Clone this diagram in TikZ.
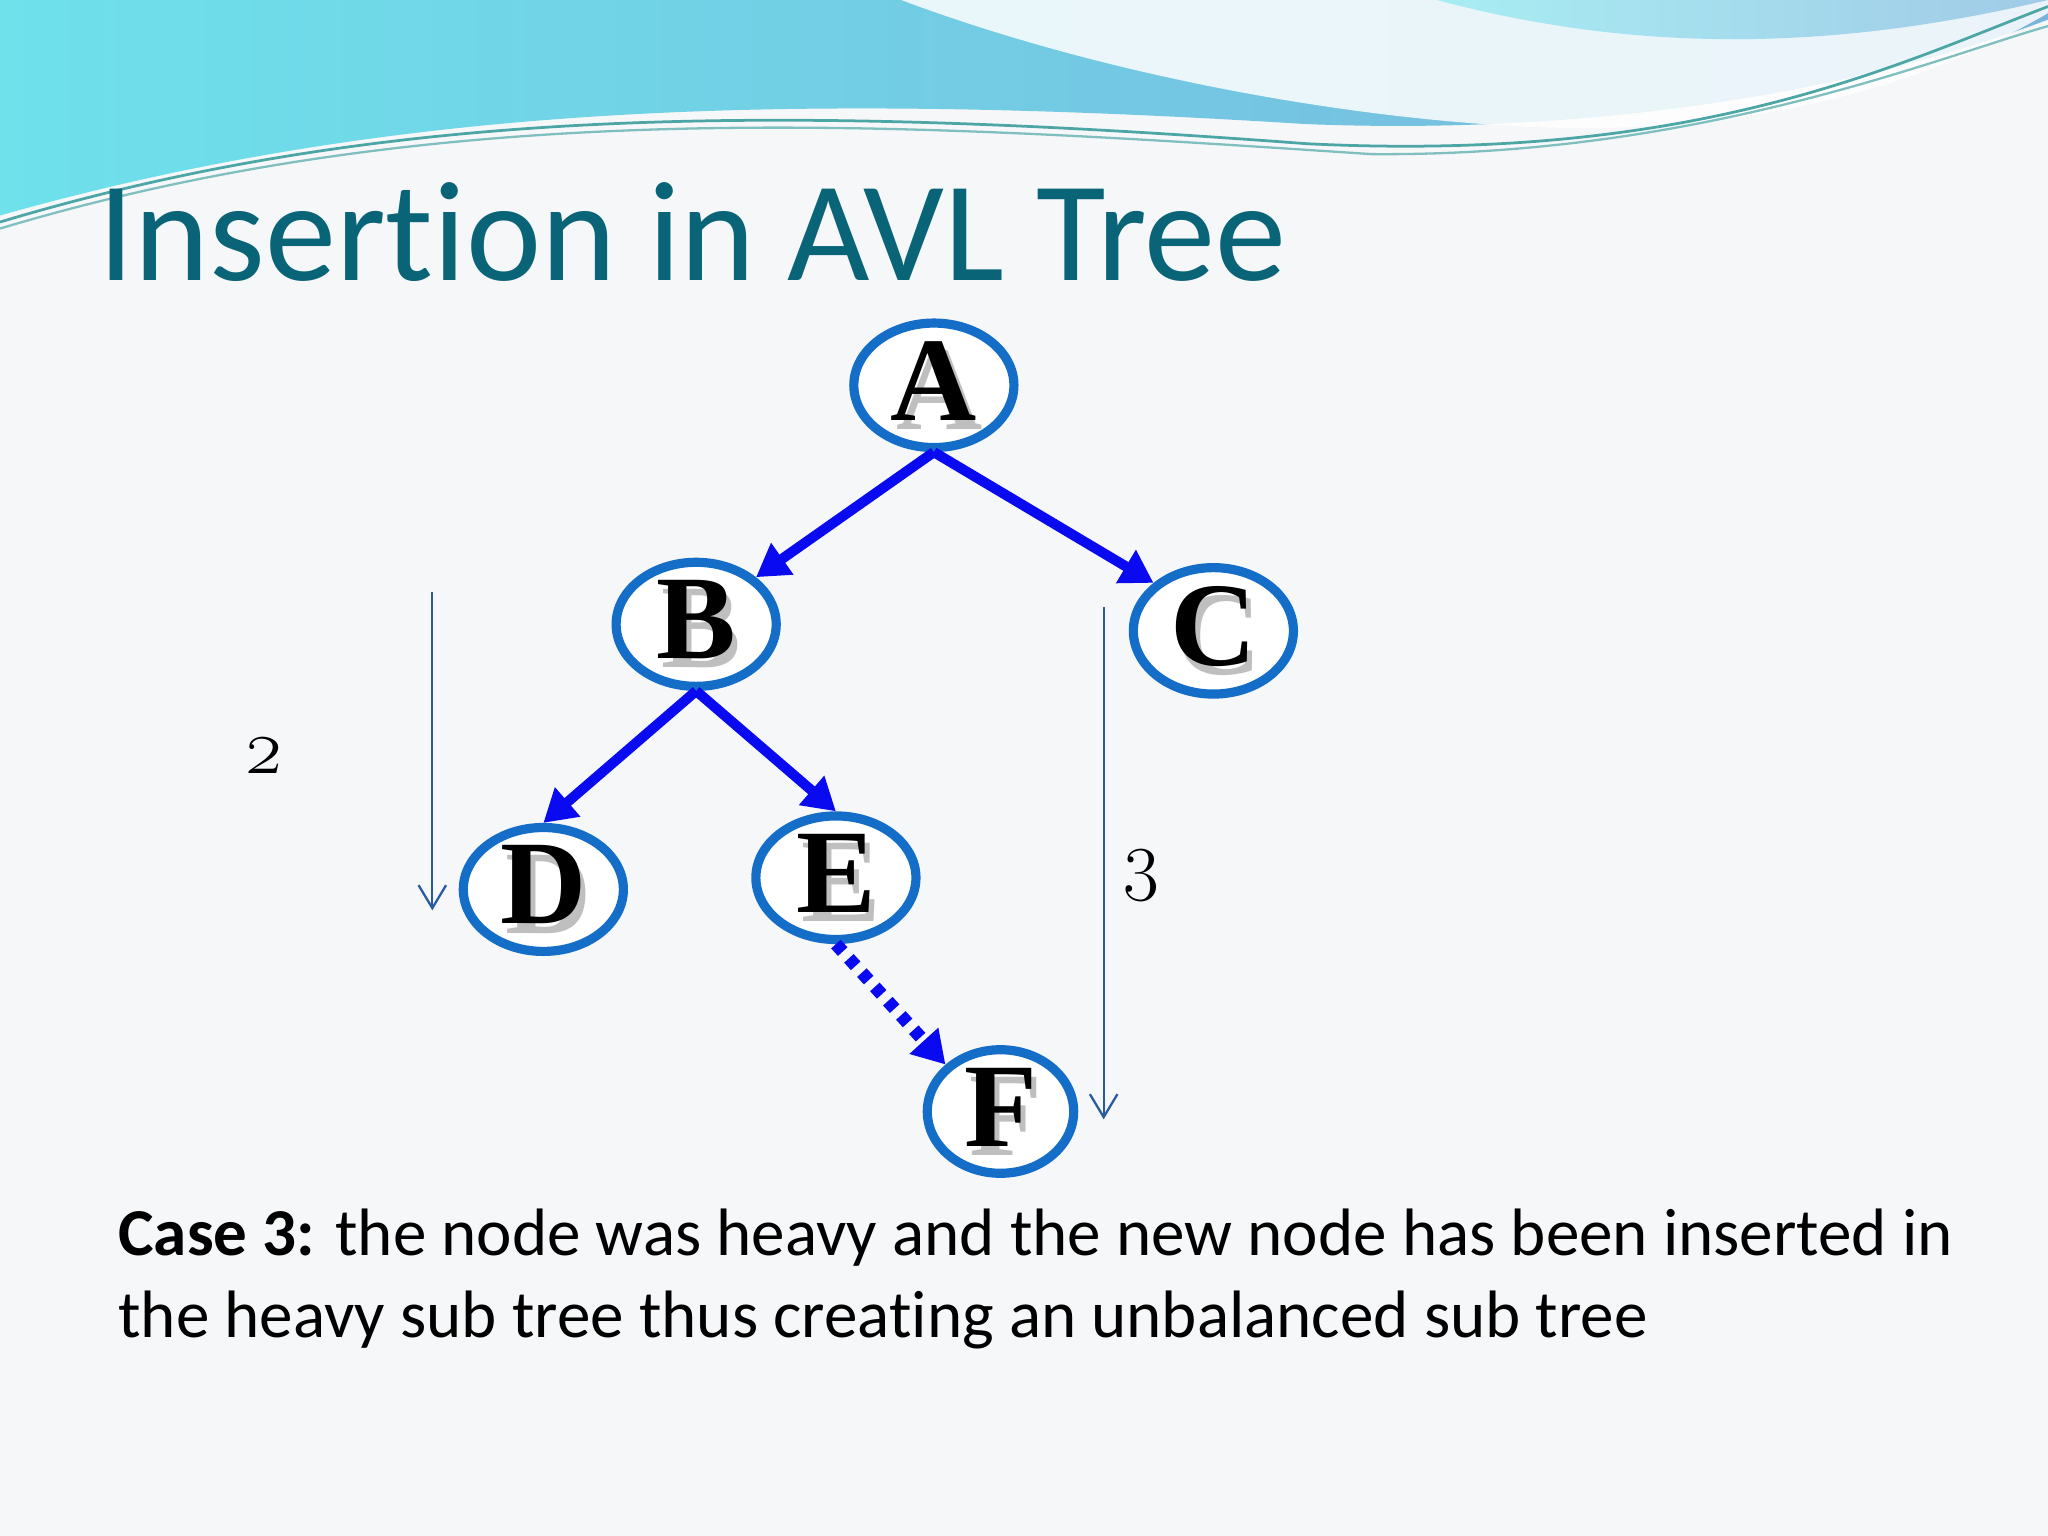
\documentclass[tikz,border=0pt]{standalone}
\usepackage{fontspec}
\setmainfont{Carlito}[RawFeature=-liga]
\newfontfamily\nodefont{Liberation Serif}
\newfontfamily\numfont[Numbers=OldStyle]{Latin Modern Roman}
\usetikzlibrary{shapes.geometric,arrows.meta}
\definecolor{bgc}{RGB}{246,247,249}
\definecolor{titlec}{RGB}{10,100,120}
\definecolor{ringc}{RGB}{20,110,200}
\definecolor{arrc}{RGB}{10,10,240}
\definecolor{thinc}{RGB}{40,90,160}
\definecolor{wavea}{RGB}{110,225,235}
\definecolor{waveb}{RGB}{120,180,220}
\tikzset{
 tn/.style={ellipse,draw=ringc,line width=2pt,fill=white,minimum width=3.5cm*0.35,minimum height=2.7cm*0.35, inner sep=0pt},
 tarr/.style={draw=arrc,line width=2.2pt,-{Triangle[length=7pt,width=8pt]}},
 thin/.style={draw=thinc,line width=0.5pt,-{Straight Barb[length=5pt,width=6pt]}},
}
\newcommand{\lettr}[1]{\nodefont\bfseries\fontsize{26}{26}\selectfont\makebox[0pt]{\textcolor{black!25}{\raisebox{-2pt}{\hspace{2.4pt}#1}}}\makebox[0pt]{#1}}
\begin{document}
\begin{tikzpicture}[x=0.01cm,y=-0.01cm]
\useasboundingbox (0,0) rectangle (1568,1176);
\fill[bgc] (0,0) rectangle (1568,1176);
% top waves
\shade[left color=wavea,right color=waveb] (0,0) -- (0,165) .. controls (300,80) and (600,70) .. (1000,95) .. controls (1250,105) and (1450,60) .. (1568,15) -- (1568,0) -- cycle;
\fill[white,opacity=0.85] (690,0) .. controls (850,60) and (1050,95) .. (1200,98) .. controls (1380,100) and (1500,50) .. (1568,10) -- (1568,0) -- cycle;
\shade[left color=wavea!60,right color=waveb!70] (1100,0) .. controls (1250,40) and (1400,40) .. (1568,0) -- cycle;
\draw[teal!70,line width=0.6pt] (0,170) .. controls (300,80) and (600,80) .. (1000,110) .. controls (1300,125) and (1450,50) .. (1568,5);
\draw[teal!50,line width=0.5pt] (0,175) .. controls (350,70) and (700,95) .. (1050,118) .. controls (1300,120) and (1480,45) .. (1568,20);
% title
\node[anchor=base west,text=titlec,font=\fontsize{31}{31}\selectfont,inner sep=0pt] (title) at (75,215) {Insertion in AVL Tree};
% nodes
\node[tn] (A) at (715,295) {\lettr{A}};
\node[tn] (B) at (533,478) {\lettr{B}};
\node[tn] (C) at (929,483) {\lettr{C}};
\node[tn] (D) at (416,681) {\lettr{D}};
\node[tn] (E) at (640,672) {\lettr{E}};
\node[tn,minimum width=3.2cm*0.35,minimum height=2.5cm*0.35] (F) at (766,851) {\lettr{F}};
% edges
\draw[tarr] (A.south) -- (B.north east);
\draw[tarr] (A.south) -- (C.north west);
\draw[tarr] (B.south) -- (D.north);
\draw[tarr] (B.south) -- (E.north);
\draw[tarr,dotted,line width=2.8pt] (E.south) -- (F.north west);
% height arrows
\coordinate (h1a) at (331,453); \coordinate (h1b) at (331,697);
\coordinate (h2a) at (845,465); \coordinate (h2b) at (845,857);
\draw[thin] (h1a) -- (h1b);
\draw[thin] (h2a) -- (h2b);
\node[font=\numfont\fontsize{17}{17}\selectfont] (n2) at (202,578) {2};
\node[font=\numfont\fontsize{17}{17}\selectfont] (n3) at (874,670) {3};
% caption
\node[anchor=north west,align=left,inner sep=0pt,font=\fontsize{14.6}{17.8}\selectfont] (cap) at (90,925) {\textbf{Case 3:} the node was heavy and the new node has been inserted in\\the heavy sub tree thus creating an unbalanced sub tree};
\end{tikzpicture}
\end{document}
